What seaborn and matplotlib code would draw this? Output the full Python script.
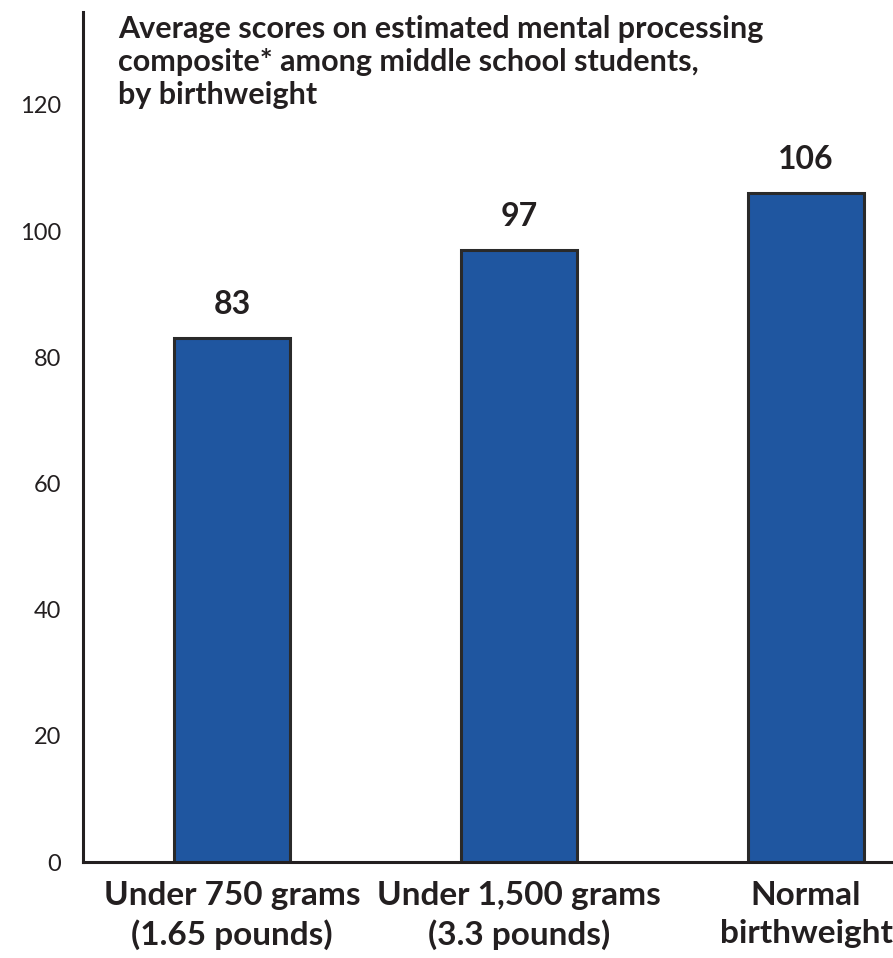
import numpy as np
import pandas as pd

import matplotlib
matplotlib.use('Agg')

import matplotlib.pyplot as plt

import seaborn as sns

# data
groups = ['Under 750 grams\n(1.65 pounds)', 'Under 1,500 grams\n(3.3 pounds)', 'Normal\nbirthweight']
scores = [83, 97, 106]
yticks = [0, 20, 40, 60, 80, 100, 120]
title = 'Average scores on estimated mental processing\ncomposite* among middle school students,\nby birthweight'

df = pd.DataFrame({'group': groups, 'score': scores})

sns.set_style('white')
plt.rcParams['font.family'] = ['Lato', 'DejaVu Sans']

ink = '#231f20'
bar_color = '#1f56a0'

fig = plt.figure(figsize=(8.93, 9.58), dpi=100)
ax = fig.add_axes([0.093, 0.1002, 0.907, 0.887])

sns.barplot(data=df, x='group', y='score', color=bar_color, saturation=1,
            width=0.404, edgecolor='#2a2a2a', linewidth=2.2, ax=ax)

ax.set_xlim(-0.519, 2.303)
ax.set_ylim(0, 134.7)
ax.set_yticks(yticks)
ax.set_yticklabels([str(t) for t in yticks], fontsize=17, color=ink)
ax.set_xticklabels(groups, fontsize=24, fontweight='bold', color=ink, linespacing=1.35)
ax.tick_params(axis='y', length=0, pad=16)
ax.tick_params(axis='x', length=0, pad=14)
ax.set_xlabel('')
ax.set_ylabel('')

for side in ['top', 'right']:
    ax.spines[side].set_visible(False)
for side in ['left', 'bottom']:
    ax.spines[side].set_color(ink)
    ax.spines[side].set_linewidth(2.2)

for cont in ax.containers:
    ax.bar_label(cont, labels=[str(v) for v in scores], padding=14,
                 fontsize=23, fontweight='bold', color=ink)

fig.text(118 / 893, 1 - 15 / 958, title, ha='left', va='top', fontsize=22,
         fontweight='bold', color=ink, linespacing=1.22)

plt.savefig('out.png', dpi=100)
plt.close()
